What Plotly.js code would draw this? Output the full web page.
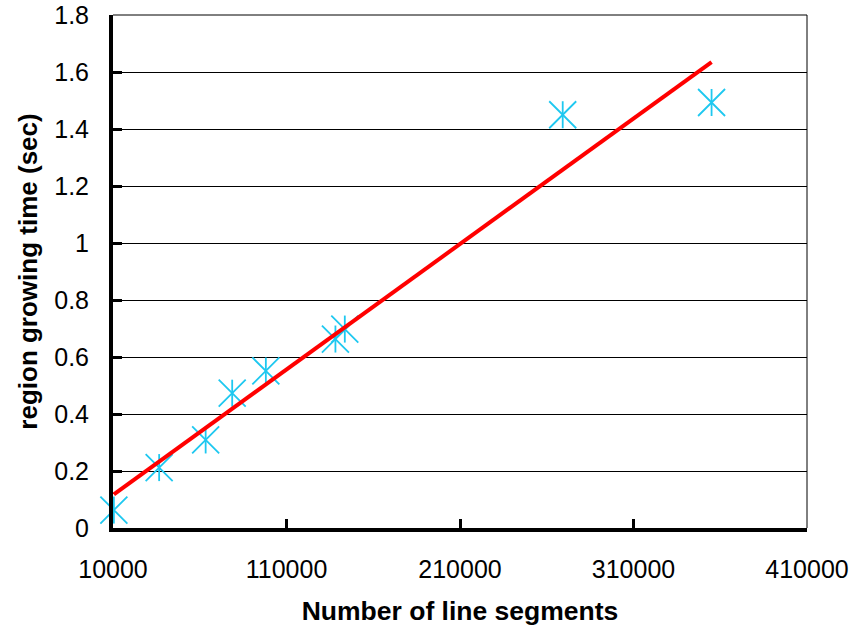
<!DOCTYPE html>
<html>
<head>
<meta charset="utf-8">
<script src="https://cdn.plot.ly/plotly-3.0.1.min.js"></script>
<style>html,body{margin:0;padding:0;background:#fff;}#chart{width:866px;height:628px;}</style>
</head>
<body>
<div id="chart"></div>
<script>
// Data
var segments = [10500, 36600, 63400, 78700, 98100, 138200, 143600, 269200, 355000];
var growTime = [0.063, 0.212, 0.309, 0.473, 0.551, 0.663, 0.698, 1.450, 1.493];
var trendX = [10500, 355000];
var trendY = [0.118, 1.635];
var xTickVals = [10000, 110000, 210000, 310000, 410000];
var xTickText = ['10000', '110000', '210000', '310000', '410000'];
var yTickVals = [0, 0.2, 0.4, 0.6, 0.8, 1, 1.2, 1.4, 1.6, 1.8];
var yTickText = ['0', '0.2', '0.4', '0.6', '0.8', '1', '1.2', '1.4', '1.6', '1.8'];

var cyan = '#1EC8F0';
var font = 'Liberation Sans, Arial, sans-serif';

var traces = [
  {x: segments, y: growTime, mode: 'markers', type: 'scatter', cliponaxis: false,
   marker: {symbol: 'x-thin-open', size: 27, color: cyan, line: {color: cyan, width: 1.8}}},
  {x: segments, y: growTime, mode: 'markers', type: 'scatter', cliponaxis: false,
   marker: {symbol: 'line-ns-open', size: 19.3, color: cyan, line: {color: cyan, width: 1.8}}},
  {x: trendX, y: trendY, mode: 'lines', type: 'scatter', cliponaxis: false,
   line: {color: '#FF0000', width: 4}}
];

var layout = {
  width: 866, height: 628,
  margin: {l: 113, r: 59, t: 15, b: 100, pad: 0},
  paper_bgcolor: '#fff', plot_bgcolor: '#fff',
  showlegend: false,
  font: {family: font, size: 25, color: '#000'},
  xaxis: {
    range: [10000, 410000], tickvals: xTickVals, ticktext: xTickText,
    showgrid: false, zeroline: false,
    showline: true, linecolor: '#000', linewidth: 4,
    ticks: 'inside', ticklen: 9, tickwidth: 3, tickcolor: '#000',
    ticklabelstandoff: 16,
    tickfont: {family: font, size: 25, color: '#000'},
    title: {text: '<b>Number of line segments</b>', font: {family: font, size: 26.5, color: '#000'}, standoff: 20}
  },
  yaxis: {
    range: [0, 1.8], tickvals: yTickVals, ticktext: yTickText,
    showgrid: true, gridcolor: '#000', gridwidth: 1, zeroline: false,
    showline: true, linecolor: '#000', linewidth: 4,
    ticks: 'inside', ticklen: 9, tickwidth: 3, tickcolor: '#000',
    ticklabelstandoff: 15,
    tickfont: {family: font, size: 25, color: '#000'},
    title: {text: '<b>region growing time (sec)</b>', font: {family: font, size: 26, color: '#000'}, standoff: 10}
  },
  shapes: [
    {type: 'line', xref: 'paper', yref: 'paper', x0: 0, x1: 1, y0: 1, y1: 1, line: {color: '#000', width: 1}},
    {type: 'line', xref: 'paper', yref: 'paper', x0: 1, x1: 1, y0: 0, y1: 1, line: {color: '#000', width: 1}}
  ]
};

Plotly.newPlot('chart', traces, layout, {displayModeBar: false, staticPlot: true});
</script>
</body>
</html>
